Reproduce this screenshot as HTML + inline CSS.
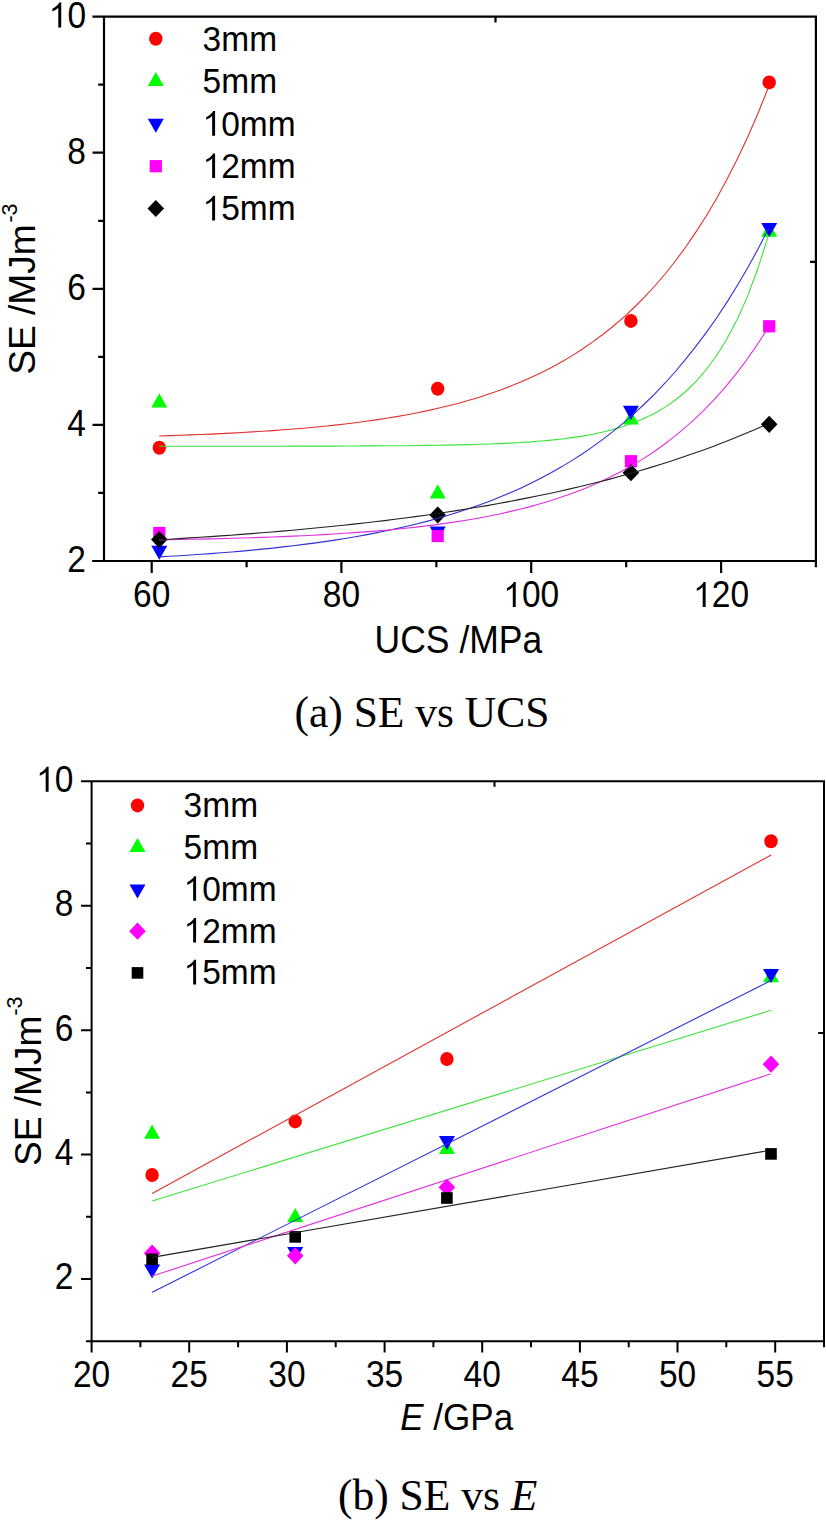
<!DOCTYPE html>
<html><head><meta charset="utf-8"><title>SE charts</title>
<style>html,body{margin:0;padding:0;background:#fff;width:826px;height:1520px;overflow:hidden}svg{display:block}.s{font-family:"Liberation Sans",sans-serif}.r{font-family:"Liberation Serif",serif}</style></head><body>
<svg width="826" height="1520" viewBox="0 0 826 1520">
<rect width="826" height="1520" fill="#fff"/>
<g class="s">
<g stroke="#000" stroke-width="2.2" fill="none" stroke-linecap="butt">
<path d="M92.4 16.7H817 M92.4 561H817 M104 16.7V561 M815.9 15.6V567.2"/>
<path d="M92.5 561H104M92.5 424.9H104M92.5 288.8H104M92.5 152.7H104M98.2 492.9H104M98.2 356.9H104M98.2 220.8H104M98.2 84.7H104M151.7 561V573M341.4 561V573M531.2 561V573M721.1 561V573M246.6 561V567.2M436.4 561V567.2M626.2 561V567.2M495.5 16.7V22.6M810 261.8H815.9"/>
</g>
<g font-size="34" fill="#000">
<text transform="translate(86 572) scale(0.985 1.07)" text-anchor="end">2</text>
<text transform="translate(86 435.9) scale(0.985 1.07)" text-anchor="end">4</text>
<text transform="translate(86 299.8) scale(0.985 1.07)" text-anchor="end">6</text>
<text transform="translate(86 163.7) scale(0.985 1.07)" text-anchor="end">8</text>
<g transform="translate(86 27.6) scale(0.985 1.07)"><path d="M583 0H763V1409H646Q600 1310 470 1210Q360 1125 223 1062V906Q300 935 400 990Q500 1050 583 1120Z" transform="translate(-37.82 0) scale(0.01660 -0.01660)"/><text x="-18.91">0</text></g>
<text transform="translate(151.7 607) scale(0.985 1.07)" text-anchor="middle">60</text>
<text transform="translate(341.4 607) scale(0.985 1.07)" text-anchor="middle">80</text>
<g transform="translate(531.2 607) scale(0.985 1.07)"><path d="M583 0H763V1409H646Q600 1310 470 1210Q360 1125 223 1062V906Q300 935 400 990Q500 1050 583 1120Z" transform="translate(-28.36 0) scale(0.01660 -0.01660)"/><text x="-9.45">00</text></g>
<g transform="translate(721.1 607) scale(0.985 1.07)"><path d="M583 0H763V1409H646Q600 1310 470 1210Q360 1125 223 1062V906Q300 935 400 990Q500 1050 583 1120Z" transform="translate(-28.36 0) scale(0.01660 -0.01660)"/><text x="-9.45">20</text></g>
</g>
<text transform="translate(374.6 652.6) scale(1 1.07)" font-size="35.5">UCS /MPa</text>
<text transform="translate(35.3 374.8) rotate(-90) scale(1.046 1.05)" font-size="35.5">SE /MJm<tspan font-size="20.5" dy="-17.5" dx="1.6">-3</tspan></text>
<ellipse cx="159.3" cy="447.8" rx="6.7" ry="7" fill="#f00"/>
<ellipse cx="437.7" cy="388.7" rx="6.7" ry="7" fill="#f00"/>
<ellipse cx="630.9" cy="320.9" rx="6.7" ry="7" fill="#f00"/>
<ellipse cx="769.2" cy="82.4" rx="6.7" ry="7" fill="#f00"/>
<path d="M159.3 393.2L167.3 407.4L151.3 407.4Z" fill="#0f0"/>
<path d="M437.7 484.3L445.7 498.5L429.7 498.5Z" fill="#0f0"/>
<path d="M630.9 410.2L638.9 424.4L622.9 424.4Z" fill="#0f0"/>
<path d="M769.2 222.5L777.2 236.7L761.2 236.7Z" fill="#0f0"/>
<path d="M151.3 545.8L167.3 545.8L159.3 559.8Z" fill="#00f"/>
<path d="M429.7 526.4L445.7 526.4L437.7 540.4Z" fill="#00f"/>
<path d="M622.9 405.8L638.9 405.8L630.9 419.9Z" fill="#00f"/>
<path d="M761.2 222.9L777.2 222.9L769.2 237.1Z" fill="#00f"/>
<rect x="153.2" y="526.9" width="12.2" height="12.2" fill="#f0f"/>
<rect x="431.6" y="529.9" width="12.2" height="12.2" fill="#f0f"/>
<rect x="624.8" y="455.1" width="12.2" height="12.2" fill="#f0f"/>
<rect x="763.1" y="320.2" width="12.2" height="12.2" fill="#f0f"/>
<path d="M159.3 531L167.6 539.6L159.3 548.2L151 539.6Z" fill="#000"/>
<path d="M437.7 506.4L446 515L437.7 523.6L429.4 515Z" fill="#000"/>
<path d="M630.9 464.1L639.2 472.7L630.9 481.3L622.6 472.7Z" fill="#000"/>
<path d="M769.2 415.7L777.5 424.3L769.2 432.9L760.9 424.3Z" fill="#000"/>
<path d="M159.3 436 L169.6 435.6 L179.9 435.3 L190.3 434.9 L200.6 434.5 L210.9 434.1 L221.2 433.6 L231.6 433.1 L241.9 432.5 L252.2 431.9 L262.5 431.3 L272.8 430.6 L283.2 429.8 L293.5 429 L303.8 428.2 L314.1 427.2 L324.5 426.2 L334.8 425.1 L345.1 424 L355.4 422.7 L365.7 421.3 L376.1 419.9 L386.4 418.3 L396.7 416.6 L407 414.8 L417.4 412.8 L427.7 410.6 L438 408.3 L448.3 405.8 L458.6 403.2 L469 400.3 L479.3 397.2 L489.6 393.8 L499.9 390.2 L510.2 386.3 L520.6 382.1 L530.9 377.6 L541.2 372.7 L551.5 367.4 L561.9 361.8 L572.2 355.6 L582.5 349 L592.8 341.9 L603.1 334.3 L613.5 326 L623.8 317.1 L634.1 307.5 L644.4 297.2 L654.8 286 L665.1 274 L675.4 261 L685.7 247 L696 231.9 L706.4 215.7 L716.7 198.2 L727 179.3 L737.3 158.9 L747.7 137 L758 113.3 L768.3 87.8" fill="none" stroke="#e0302e" stroke-width="1.1"/>
<path d="M159.3 446.2 L169.6 446.2 L179.9 446.2 L190.3 446.2 L200.6 446.2 L210.9 446.2 L221.2 446.2 L231.6 446.2 L241.9 446.2 L252.2 446.2 L262.5 446.2 L272.8 446.2 L283.2 446.2 L293.5 446.1 L303.8 446.1 L314.1 446.1 L324.5 446.1 L334.8 446.1 L345.1 446 L355.4 446 L365.7 445.9 L376.1 445.9 L386.4 445.8 L396.7 445.7 L407 445.7 L417.4 445.5 L427.7 445.4 L438 445.3 L448.3 445.1 L458.6 444.9 L469 444.6 L479.3 444.3 L489.6 444 L499.9 443.6 L510.2 443.1 L520.6 442.5 L530.9 441.9 L541.2 441 L551.5 440.1 L561.9 439 L572.2 437.6 L582.5 436.1 L592.8 434.2 L603.1 432 L613.5 429.4 L623.8 426.3 L634.1 422.6 L644.4 418.3 L654.8 413.2 L665.1 407.1 L675.4 400 L685.7 391.5 L696 381.4 L706.4 369.5 L716.7 355.5 L727 338.8 L737.3 319.2 L747.7 295.9 L758 268.3 L768.3 235.7" fill="none" stroke="#3be33b" stroke-width="1.1"/>
<path d="M159.3 556.9 L169.6 556.3 L179.9 555.7 L190.3 555 L200.6 554.3 L210.9 553.6 L221.2 552.8 L231.6 552 L241.9 551.1 L252.2 550.1 L262.5 549.1 L272.8 548.1 L283.2 546.9 L293.5 545.7 L303.8 544.4 L314.1 543.1 L324.5 541.6 L334.8 540.1 L345.1 538.5 L355.4 536.7 L365.7 534.9 L376.1 532.9 L386.4 530.8 L396.7 528.6 L407 526.3 L417.4 523.7 L427.7 521.1 L438 518.3 L448.3 515.2 L458.6 512 L469 508.6 L479.3 505 L489.6 501.2 L499.9 497.1 L510.2 492.8 L520.6 488.2 L530.9 483.3 L541.2 478 L551.5 472.5 L561.9 466.6 L572.2 460.4 L582.5 453.7 L592.8 446.6 L603.1 439.1 L613.5 431.1 L623.8 422.6 L634.1 413.6 L644.4 404 L654.8 393.8 L665.1 383 L675.4 371.5 L685.7 359.2 L696 346.2 L706.4 332.4 L716.7 317.7 L727 302.1 L737.3 285.5 L747.7 267.8 L758 249.1 L768.3 229.1" fill="none" stroke="#3030d8" stroke-width="1.1"/>
<path d="M159.3 539.9 L169.6 539.7 L179.8 539.5 L190.1 539.3 L200.4 539.1 L210.7 538.9 L220.9 538.6 L231.2 538.3 L241.5 538 L251.8 537.7 L262 537.4 L272.3 537 L282.6 536.6 L292.9 536.1 L303.1 535.7 L313.4 535.2 L323.7 534.6 L334 534 L344.2 533.3 L354.5 532.6 L364.8 531.9 L375.1 531.1 L385.3 530.2 L395.6 529.2 L405.9 528.2 L416.2 527.1 L426.4 525.9 L436.7 524.6 L447 523.1 L457.3 521.6 L467.5 520 L477.8 518.2 L488.1 516.3 L498.4 514.2 L508.6 511.9 L518.9 509.5 L529.2 506.9 L539.5 504 L549.7 501 L560 497.6 L570.3 494.1 L580.6 490.2 L590.8 486 L601.1 481.5 L611.4 476.6 L621.7 471.3 L631.9 465.5 L642.2 459.4 L652.5 452.7 L662.8 445.5 L673 437.6 L683.3 429.2 L693.6 420.1 L703.9 410.2 L714.1 399.6 L724.4 388.1 L734.7 375.6 L745 362.2 L755.2 347.6 L765.5 331.9" fill="none" stroke="#e030e0" stroke-width="1.1"/>
<path d="M159.3 539.8 L169.5 539.2 L179.8 538.6 L190 537.9 L200.3 537.3 L210.5 536.6 L220.7 535.9 L231 535.2 L241.2 534.4 L251.5 533.6 L261.7 532.8 L271.9 532 L282.2 531.1 L292.4 530.2 L302.7 529.3 L312.9 528.3 L323.2 527.3 L333.4 526.3 L343.6 525.2 L353.9 524.1 L364.1 523 L374.4 521.8 L384.6 520.6 L394.8 519.3 L405.1 518 L415.3 516.6 L425.6 515.2 L435.8 513.7 L446 512.2 L456.3 510.6 L466.5 509 L476.8 507.3 L487 505.6 L497.2 503.7 L507.5 501.9 L517.7 499.9 L528 497.9 L538.2 495.8 L548.4 493.7 L558.7 491.5 L568.9 489.1 L579.2 486.8 L589.4 484.3 L599.6 481.7 L609.9 479.1 L620.1 476.3 L630.4 473.4 L640.6 470.5 L650.9 467.4 L661.1 464.3 L671.3 461 L681.6 457.6 L691.8 454.1 L702.1 450.4 L712.3 446.7 L722.5 442.8 L732.8 438.7 L743 434.5 L753.3 430.2 L763.5 425.7" fill="none" stroke="#202020" stroke-width="1.1"/>
<ellipse cx="155.8" cy="38.8" rx="6.7" ry="7" fill="#f00"/>
<path d="M155.8 71.9L163.8 86.1L147.8 86.1Z" fill="#0f0"/>
<path d="M147.8 118.7L163.8 118.7L155.8 132.8Z" fill="#00f"/>
<rect x="149.7" y="160.1" width="12.2" height="12.2" fill="#f0f"/>
<path d="M155.8 199.9L164.1 208.5L155.8 217.1L147.5 208.5Z" fill="#000"/>
<g font-size="33.5">
<text transform="translate(202.6 51) scale(1 1.07)">3mm</text>
<text transform="translate(202.6 93.3) scale(1 1.07)">5mm</text>
<g transform="translate(202.6 135.7) scale(1 1.07)"><path d="M583 0H763V1409H646Q600 1310 470 1210Q360 1125 223 1062V906Q300 935 400 990Q500 1050 583 1120Z" transform="translate(0.00 0) scale(0.01636 -0.01636)"/><text x="18.63">0mm</text></g>
<g transform="translate(202.6 178.1) scale(1 1.07)"><path d="M583 0H763V1409H646Q600 1310 470 1210Q360 1125 223 1062V906Q300 935 400 990Q500 1050 583 1120Z" transform="translate(0.00 0) scale(0.01636 -0.01636)"/><text x="18.63">2mm</text></g>
<g transform="translate(202.6 220.4) scale(1 1.07)"><path d="M583 0H763V1409H646Q600 1310 470 1210Q360 1125 223 1062V906Q300 935 400 990Q500 1050 583 1120Z" transform="translate(0.00 0) scale(0.01636 -0.01636)"/><text x="18.63">5mm</text></g>
</g>
<text x="294.5" y="727" font-size="43.5" class="r">(a) SE vs UCS</text>
</g>
<g class="s">
<g stroke="#000" stroke-width="2.0" fill="none">
<path d="M81 781.2H825 M86 1341.2H825 M91.6 781.2V1352.4 M824 780.2V1347.3"/>
<path d="M81 1279H91.6M81 1154.6H91.6M81 1030.2H91.6M81 905.8H91.6M86 1216.8H91.6M86 1092.4H91.6M86 968H91.6M86 843.6H91.6M189.2 1341.2V1352.4M286.9 1341.2V1352.4M384.6 1341.2V1352.4M482.2 1341.2V1352.4M579.9 1341.2V1352.4M677.5 1341.2V1352.4M775.2 1341.2V1352.4M140.4 1341.2V1347.3M238.1 1341.2V1347.3M335.7 1341.2V1347.3M433.4 1341.2V1347.3M531 1341.2V1347.3M628.7 1341.2V1347.3M726.3 1341.2V1347.3M494.5 781.2V786.8M818.2 1033.1H824"/>
</g>
<g font-size="34" fill="#000">
<text transform="translate(73.4 1289.4) scale(0.985 1.07)" text-anchor="end">2</text>
<text transform="translate(73.4 1165) scale(0.985 1.07)" text-anchor="end">4</text>
<text transform="translate(73.4 1040.6) scale(0.985 1.07)" text-anchor="end">6</text>
<text transform="translate(73.4 916.2) scale(0.985 1.07)" text-anchor="end">8</text>
<g transform="translate(73.4 791.8) scale(0.985 1.07)"><path d="M583 0H763V1409H646Q600 1310 470 1210Q360 1125 223 1062V906Q300 935 400 990Q500 1050 583 1120Z" transform="translate(-37.82 0) scale(0.01660 -0.01660)"/><text x="-18.91">0</text></g>
<text transform="translate(91.6 1386.8) scale(0.985 1.07)" text-anchor="middle">20</text>
<text transform="translate(189.2 1386.8) scale(0.985 1.07)" text-anchor="middle">25</text>
<text transform="translate(286.9 1386.8) scale(0.985 1.07)" text-anchor="middle">30</text>
<text transform="translate(384.6 1386.8) scale(0.985 1.07)" text-anchor="middle">35</text>
<text transform="translate(482.2 1386.8) scale(0.985 1.07)" text-anchor="middle">40</text>
<text transform="translate(579.9 1386.8) scale(0.985 1.07)" text-anchor="middle">45</text>
<text transform="translate(677.5 1386.8) scale(0.985 1.07)" text-anchor="middle">50</text>
<text transform="translate(775.2 1386.8) scale(0.985 1.07)" text-anchor="middle">55</text>
</g>
<text transform="translate(400.3 1429.6) scale(1 1.07)" font-size="35"><tspan font-style="italic">E</tspan> /GPa</text>
<text transform="translate(40.5 1166.1) rotate(-90) scale(1.046 1.05)" font-size="35.5">SE /MJm<tspan font-size="20.5" dy="-17.5" dx="0">-3</tspan></text>
<ellipse cx="152.1" cy="1175" rx="6.7" ry="7" fill="#f00"/>
<ellipse cx="295.2" cy="1121.4" rx="6.7" ry="7" fill="#f00"/>
<ellipse cx="446.9" cy="1059" rx="6.7" ry="7" fill="#f00"/>
<ellipse cx="771" cy="841.2" rx="6.7" ry="7" fill="#f00"/>
<path d="M152.1 1124.5L160.1 1138.7L144.1 1138.7Z" fill="#0f0"/>
<path d="M295.2 1207.9L303.2 1222.1L287.2 1222.1Z" fill="#0f0"/>
<path d="M446.9 1139.9L454.9 1154.1L438.9 1154.1Z" fill="#0f0"/>
<path d="M771 968.1L779 982.3L763 982.3Z" fill="#0f0"/>
<path d="M144.1 1264.5L160.1 1264.5L152.1 1278.6Z" fill="#00f"/>
<path d="M287.2 1247L303.2 1247L295.2 1261Z" fill="#00f"/>
<path d="M438.9 1135.9L454.9 1135.9L446.9 1150Z" fill="#00f"/>
<path d="M763 968.9L779 968.9L771 982.9Z" fill="#00f"/>
<path d="M152.1 1244.6L160.4 1253.2L152.1 1261.8L143.8 1253.2Z" fill="#f0f"/>
<path d="M295.2 1247.2L303.5 1255.8L295.2 1264.4L286.9 1255.8Z" fill="#f0f"/>
<path d="M446.9 1178.7L455.2 1187.3L446.9 1195.9L438.6 1187.3Z" fill="#f0f"/>
<path d="M771 1055.6L779.3 1064.2L771 1072.8L762.7 1064.2Z" fill="#f0f"/>
<rect x="146.3" y="1253.5" width="11.6" height="11.6" fill="#000"/>
<rect x="289.4" y="1231.1" width="11.6" height="11.6" fill="#000"/>
<rect x="441.1" y="1192.2" width="11.6" height="11.6" fill="#000"/>
<rect x="765.2" y="1148.1" width="11.6" height="11.6" fill="#000"/>
<path d="M152.1 1193.5L771.1 855.1" stroke="#e0302e" stroke-width="1.1"/>
<path d="M152.1 1201L771.1 1010.2" stroke="#3be33b" stroke-width="1.1"/>
<path d="M152.2 1292.3L770 981" stroke="#3030d8" stroke-width="1.1"/>
<path d="M152.2 1276.1L770.6 1073.9" stroke="#e030e0" stroke-width="1.1"/>
<path d="M152.1 1257.4L766 1151" stroke="#202020" stroke-width="1.1"/>
<ellipse cx="137.5" cy="805.4" rx="6.7" ry="7" fill="#f00"/>
<path d="M137.5 837.9L145.5 852.1L129.5 852.1Z" fill="#0f0"/>
<path d="M129.5 884.4L145.5 884.4L137.5 898.4Z" fill="#00f"/>
<path d="M137.5 922.6L145.8 931.2L137.5 939.8L129.2 931.2Z" fill="#f0f"/>
<rect x="131.7" y="967.1" width="11.6" height="11.6" fill="#000"/>
<g font-size="33.5">
<text transform="translate(183.6 817.3) scale(1 1.07)">3mm</text>
<text transform="translate(183.6 859.1) scale(1 1.07)">5mm</text>
<g transform="translate(183.6 900.8) scale(1 1.07)"><path d="M583 0H763V1409H646Q600 1310 470 1210Q360 1125 223 1062V906Q300 935 400 990Q500 1050 583 1120Z" transform="translate(0.00 0) scale(0.01636 -0.01636)"/><text x="18.63">0mm</text></g>
<g transform="translate(183.6 942.6) scale(1 1.07)"><path d="M583 0H763V1409H646Q600 1310 470 1210Q360 1125 223 1062V906Q300 935 400 990Q500 1050 583 1120Z" transform="translate(0.00 0) scale(0.01636 -0.01636)"/><text x="18.63">2mm</text></g>
<g transform="translate(183.6 984.4) scale(1 1.07)"><path d="M583 0H763V1409H646Q600 1310 470 1210Q360 1125 223 1062V906Q300 935 400 990Q500 1050 583 1120Z" transform="translate(0.00 0) scale(0.01636 -0.01636)"/><text x="18.63">5mm</text></g>
</g>
<text x="338" y="1510.2" font-size="43.5" class="r">(b) SE vs <tspan font-style="italic">E</tspan></text>
</g>
</svg></body></html>
